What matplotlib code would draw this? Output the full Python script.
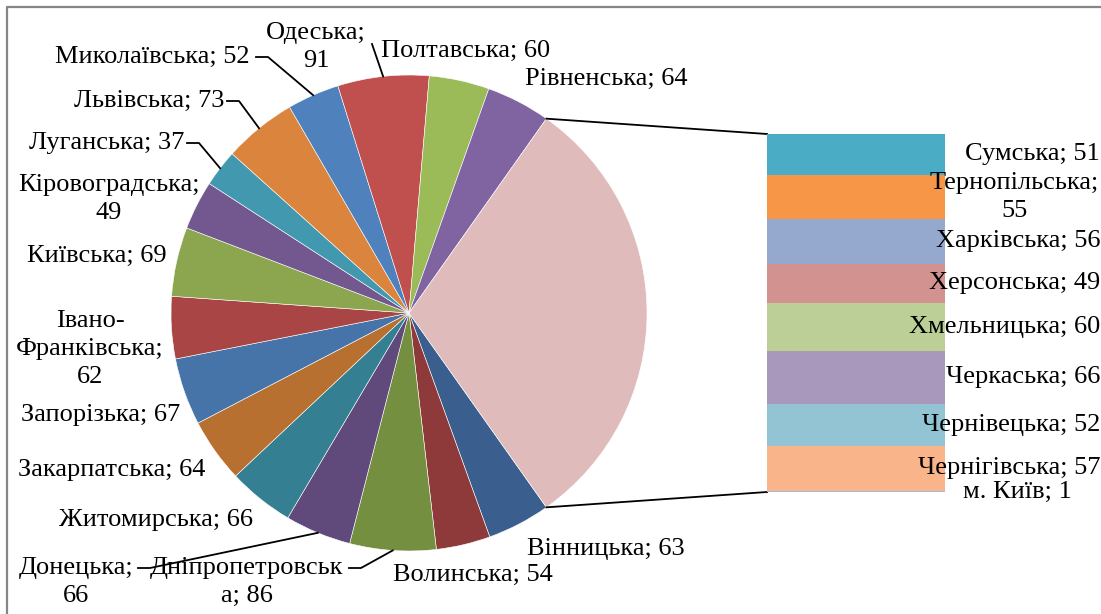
import numpy as np
import matplotlib
matplotlib.use("Agg")
import matplotlib.pyplot as plt
from matplotlib.transforms import blended_transform_factory

plt.rcParams['font.family'] = ['Liberation Serif', 'DejaVu Serif']

# області у круговій діаграмі (за годинниковою стрілкою)
pie_names = ["Вінницька", "Волинська", "Дніпропетровська", "Донецька", "Житомирська",
             "Закарпатська", "Запорізька", "Івано-Франківська", "Київська",
             "Кіровоградська", "Луганська", "Львівська", "Миколаївська", "Одеська",
             "Полтавська", "Рівненська"]
pie_values = [63, 54, 86, 66, 66, 64, 67, 62, 69, 49, 37, 73, 52, 91, 60, 64]

# області, винесені у стовпчик
bar_names = ["Сумська", "Тернопільська", "Харківська", "Херсонська", "Хмельницька",
             "Черкаська", "Чернівецька", "Чернігівська", "м. Київ"]
bar_values = [51, 55, 56, 49, 60, 66, 52, 57, 1]

pie_colors = ["#3A5F8F", "#8E3A3A", "#758F40", "#5F4A7B", "#357F92", "#B87031",
              "#4674A8", "#A94544", "#8BA64E", "#72588E", "#4298AE", "#DB843D",
              "#4F81BD", "#C0504D", "#9BBB59", "#8064A2"]
other_color = "#DFBBBB"
bar_colors = ["#4BACC6", "#F79646", "#95A9CF", "#D19290", "#BBCF96", "#A898BB",
              "#92C4D4", "#F9B48A", "#A7B9DA"]

W, H = 1101, 614
fig = plt.figure(figsize=(W / 100, H / 100), dpi=100)
ax = fig.add_axes([0, 0, 1, 1])
ax.set_xlim(0, W)
ax.set_ylim(H, 0)
ax.axis("off")

# рамка області діаграми
ax.plot([7, 7, W + 5], [H + 5, 7, 7], color="#868686", lw=1.6, solid_capstyle="butt")

cx, cy, R = 409, 313, 238
other = sum(bar_values)
total = sum(pie_values) + other
start = 180 * other / total

values = pie_values + [other]
wedges, _ = ax.pie(values, colors=pie_colors + [other_color], startangle=start,
                   counterclock=True, center=(cx, cy), radius=R, frame=True,
                   wedgeprops=dict(edgecolor="white", linewidth=0.4))
ax.set_xlim(0, W)
ax.set_ylim(H, 0)

fs = 19
ls = 1.33
# підписи частин круга: (x, y, вирівнювання)
label_pos = {
    "Вінницька": (527, 549, "left"),
    "Волинська": (473, 575, "center"),
    "Дніпропетровська": (247, 582, "center"),
    "Донецька": (76, 582, "center"),
    "Житомирська": (156, 520, "center"),
    "Закарпатська": (112, 470, "center"),
    "Запорізька": (101, 415, "center"),
    "Івано-Франківська": (90, 349, "center"),
    "Київська": (97, 256, "center"),
    "Кіровоградська": (109, 199, "center"),
    "Луганська": (107, 143, "center"),
    "Львівська": (149, 101, "center"),
    "Миколаївська": (152, 57, "center"),
    "Одеська": (316, 47, "center"),
    "Полтавська": (466, 51, "center"),
    "Рівненська": (606, 79, "center"),
}
label_text = {
    "Дніпропетровська": "Дніпропетровськ\nа; {}",
    "Донецька": "Донецька;\n{}",
    "Івано-Франківська": "Івано-\nФранківська;\n{}",
    "Кіровоградська": "Кіровоградська;\n{}",
    "Одеська": "Одеська;\n{}",
}
# лінії виносок: точка біля підпису -> край сектора
leaders = {
    "Миколаївська": [(256, 57), (268, 57)],
    "Львівська": [(227, 101), (239, 101)],
    "Луганська": [(187, 143), (199, 143)],
    "Одеська": [(372, 44)],
    "Донецька": [(138, 568), (150, 568)],
    "Дніпропетровська": [(349, 568), (361, 568)],
}

for name, val, w in zip(pie_names, pie_values, wedges):
    x, y, ha = label_pos[name]
    txt = label_text.get(name, name + "; {}").format(val)
    ax.text(x, y, txt, ha=ha, va="center", fontsize=fs, linespacing=ls,
            multialignment="center", zorder=5)
    if name in leaders:
        mid = np.deg2rad((w.theta1 + w.theta2) / 2)
        edge = (cx + R * np.cos(mid), cy + R * np.sin(mid))
        pts = leaders[name] + [edge]
        ax.plot([p[0] for p in pts], [p[1] for p in pts], color="black", lw=1.3,
                zorder=4)

# стовпчик з рештою областей
bx0, bx1, by0, by1 = 767, 945, 134, 492
bax = fig.add_axes([bx0 / W, 1 - by1 / H, (bx1 - bx0) / W, (by1 - by0) / H])
bax.set_xlim(-0.5, 0.5)
bax.set_ylim(other, 0)
bax.axis("off")
bottoms = np.concatenate([[0], np.cumsum(bar_values)[:-1]])
bax.bar(0, bar_values, width=1, bottom=bottoms, color=bar_colors, linewidth=0)

# сполучні лінії від круга до стовпчика
a = np.deg2rad(start)
ax.plot([cx + R * np.cos(a), bx0], [cy - R * np.sin(a), by0], color="black", lw=1.3)
ax.plot([cx + R * np.cos(a), bx0], [cy + R * np.sin(a), by1], color="black", lw=1.3)

tr = blended_transform_factory(fig.transFigure, bax.transData)
for name, val, b in zip(bar_names, bar_values, bottoms):
    yc = b + val / 2
    if name == "Тернопільська":
        bax.text(1014 / W, yc, f"{name};\n{val}", transform=tr, ha="center",
                 va="center", fontsize=fs, linespacing=ls, clip_on=False, zorder=5)
    elif name == "м. Київ":
        bax.text(1017 / W, yc, f"{name}; {val}", transform=tr, ha="center",
                 va="center", fontsize=fs, clip_on=False, zorder=5)
    else:
        bax.text(1100 / W, yc, f"{name}; {val}", transform=tr, ha="right",
                 va="center", fontsize=fs, clip_on=False, zorder=5)

fig.savefig("out.png", dpi=100, facecolor="white")
